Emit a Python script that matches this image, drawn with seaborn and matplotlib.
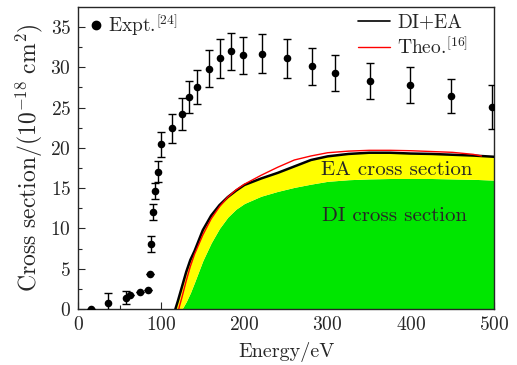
import matplotlib
matplotlib.use("Agg")
import matplotlib.pyplot as plt
import seaborn as sns
import numpy as np
import pandas as pd
from matplotlib.lines import Line2D

# ---- data ----
expt_E = [15.2, 35.7, 57.3, 62.9, 74.1, 84.5, 86.5, 88.1, 90.5, 92.5, 96.5, 99.4,
          113.4, 125.4, 133.8, 143.4, 157.8, 171.0, 183.5, 197.9, 221.5, 251.6,
          280.9, 308.9, 351.0, 399.0, 448.7, 497.2]
expt_sigma = [0.0, 0.8, 1.4, 1.8, 2.06, 2.3, 4.34, 8.06, 12.07, 14.7, 17.05, 20.43,
              22.46, 24.2, 26.3, 27.6, 29.85, 31.1, 32.0, 31.5, 31.7, 31.1,
              30.15, 29.3, 28.3, 27.8, 26.4, 25.1]
expt_err = [0.0, 1.2, 0.8, 0.0, 0.0, 0.0, 0.0, 1.0, 1.0, 1.0, 1.3, 1.5,
            1.8, 2.0, 2.0, 2.1, 2.3, 2.4, 2.3, 2.3, 2.4, 2.4,
            2.3, 2.2, 2.2, 2.2, 2.1, 2.7]

calc_E = [117, 120, 125, 130, 135, 140, 150, 160, 170, 180, 190, 200, 220, 240,
          260, 280, 300, 325, 350, 375, 400, 425, 450, 475, 500]
di_sigma = [0.0, 0.0, 0.0, 0.9, 2.0, 3.3, 6.0, 8.2, 10.0, 11.4, 12.4, 13.1, 14.0,
            14.6, 15.1, 15.5, 15.85, 16.05, 16.15, 16.2, 16.2, 16.2, 16.15, 16.1, 16.0]
total_sigma = [0.0, 1.0, 2.8, 4.6, 6.1, 7.2, 9.8, 11.6, 12.9, 13.9, 14.7, 15.4, 16.2,
               16.9, 17.7, 18.5, 18.95, 19.25, 19.4, 19.4, 19.3, 19.25, 19.15, 19.05, 18.9]

theo_E = [121, 125, 130, 135, 140, 150, 160, 170, 180, 190, 200, 220, 240, 260,
          280, 300, 325, 350, 375, 400, 425, 450, 475, 485]
theo_sigma = [0.0, 1.5, 3.5, 5.3, 6.8, 9.2, 11.2, 12.7, 13.9, 14.8, 15.5, 16.6, 17.6,
              18.5, 19.0, 19.4, 19.6, 19.7, 19.7, 19.65, 19.55, 19.45, 19.2, 19.0]

# ---- style ----
sns.set_style("ticks")
plt.rcParams["font.family"] = ["cmr10", "DejaVu Serif"]
plt.rcParams["mathtext.fontset"] = "cm"
plt.rcParams["axes.formatter.use_mathtext"] = True
plt.rcParams["axes.unicode_minus"] = False

fig = plt.figure(figsize=(5.17, 3.65), dpi=100)
ax = fig.add_axes([0.151, 0.1534, 0.8045, 0.8276])

calc = pd.DataFrame({"E": calc_E, "DI": di_sigma, "TOT": total_sigma})
theo = pd.DataFrame({"E": theo_E, "sigma": theo_sigma})
expt = pd.DataFrame({"E": expt_E, "sigma": expt_sigma, "err": expt_err})

ax.fill_between(calc["E"], 0, calc["DI"], color="#00e600", lw=0, zorder=1)
ax.fill_between(calc["E"], calc["DI"], calc["TOT"], color="#ffff00", lw=0, zorder=1)
sns.lineplot(data=calc, x="E", y="TOT", color="black", lw=1.8, ax=ax, zorder=3)
sns.lineplot(data=theo, x="E", y="sigma", color="red", lw=1.0, ax=ax, zorder=4)

ax.errorbar(expt["E"], expt["sigma"], yerr=expt["err"], fmt="none", ecolor="black",
            elinewidth=1.0, capsize=3, capthick=1.0, zorder=5)
sns.scatterplot(data=expt, x="E", y="sigma", color="black", s=30, edgecolor="black",
                linewidth=0, ax=ax, zorder=6)

ax.text(383, 17.25, "EA cross section", ha="center", va="center", fontsize=15)
ax.text(380, 11.5, "DI cross section", ha="center", va="center", fontsize=15)

ax.set_xlim(0, 500)
ax.set_ylim(0, 37.5)
ax.set_xticks([0, 100, 200, 300, 400, 500])
ax.set_xticks([50, 150, 250, 350, 450], minor=True)
ax.set_yticks([0, 5, 10, 15, 20, 25, 30, 35])
ax.set_yticks(np.arange(2.5, 37.5, 5), minor=True)
ax.tick_params(direction="in", which="both", labelsize=14, top=False, right=False)
ax.tick_params(which="major", length=5, width=0.8, pad=5)
ax.tick_params(which="minor", length=3, width=0.8)
for s in ax.spines.values():
    s.set_linewidth(1.0)
    s.set_visible(True)

ax.set_xlabel("Energy/eV", fontsize=14.5, labelpad=6)
ax.set_ylabel(r"Cross section/$(10^{-18}\ \mathrm{cm}^2)$", fontsize=17, labelpad=4)

h1 = [Line2D([], [], marker="o", color="black", ls="none", markersize=6)]
leg1 = ax.legend(h1, [r"Expt.$^{[24]}$"], loc="upper left", frameon=False, fontsize=14,
                 handletextpad=0.15, borderaxespad=0.0, handlelength=1.0,
                 bbox_to_anchor=(0.0, 1.01))
ax.add_artist(leg1)
h2 = [Line2D([], [], color="black", lw=1.2), Line2D([], [], color="red", lw=1.0)]
ax.legend(h2, ["DI+EA", r"Theo.$^{[16]}$"], loc="upper right", frameon=False, fontsize=14,
          handlelength=1.65, handletextpad=0.36, labelspacing=0.25, borderaxespad=0.0,
          bbox_to_anchor=(0.957, 1.004))

fig.savefig("out.png", dpi=100)
